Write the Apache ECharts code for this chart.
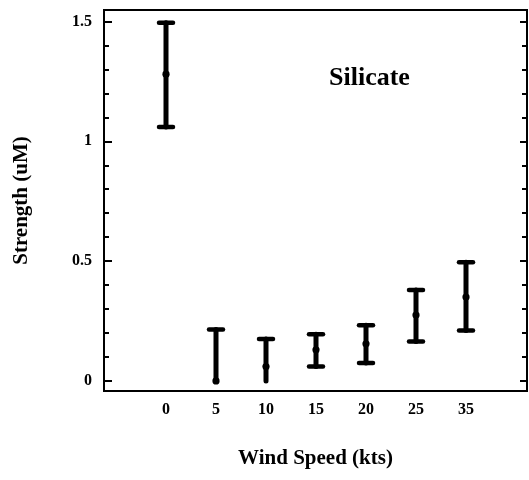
<!DOCTYPE html>
<html>
<head>
<meta charset="utf-8">
<script src="https://cdn.jsdelivr.net/npm/echarts@6/dist/echarts.min.js"></script>
<style>html,body{margin:0;padding:0;background:#fff}#chart{width:529px;height:480px}</style>
</head>
<body>
<div id="chart"></div>
<script>
// Data
const categories = ['0', '5', '10', '15', '20', '25', '35'];
const means = [1.28, 0.0, 0.06, 0.13, 0.155, 0.275, 0.35];
const lows  = [1.06, 0.0, 0.0, 0.06, 0.075, 0.165, 0.21];
const highs = [1.495, 0.215, 0.175, 0.195, 0.232, 0.38, 0.495];
const yMajorTicks = [0, 0.5, 1, 1.5];
const yMinorTicks = [0, 0.1, 0.2, 0.3, 0.4, 0.5, 0.6, 0.7, 0.8, 0.9, 1.0, 1.1, 1.2, 1.3, 1.4, 1.5];
const panelLabel = 'Silicate';
const xTitle = 'Wind Speed (kts)';
const yTitle = 'Strength (uM)';

const FONT = 'Liberation Serif';
const data = categories.map((c, i) => [i, means[i], lows[i], highs[i]]);

function renderItem(params, api) {
  const x = api.value(0);
  const m = api.value(1), lo = api.value(2), hi = api.value(3);
  const pHi = api.coord([x, hi]);
  const pLo = api.coord([x, lo]);
  const pM = api.coord([x, m]);
  const capHalf = 7;
  const style = { stroke: '#000', lineWidth: 5, lineCap: 'round' };
  const capStyle = { stroke: '#000', lineWidth: 4.5, lineCap: 'round' };
  const children = [
    { type: 'line', shape: { x1: pHi[0], y1: pHi[1], x2: pLo[0], y2: pLo[1] }, style: style },
    { type: 'line', shape: { x1: pHi[0] - capHalf, y1: pHi[1], x2: pHi[0] + capHalf, y2: pHi[1] }, style: capStyle },
    { type: 'circle', shape: { cx: pM[0], cy: pM[1], r: 3.6 }, style: { fill: '#000' } }
  ];
  if (lo > 0) {
    children.push({ type: 'line', shape: { x1: pLo[0] - capHalf, y1: pLo[1], x2: pLo[0] + capHalf, y2: pLo[1] }, style: capStyle });
  }
  return { type: 'group', children: children };
}

const yBase = { type: 'value', min: -0.042, max: 1.548, splitLine: { show: false } };

const chart = echarts.init(document.getElementById('chart'));
chart.setOption({
  animation: false,
  backgroundColor: '#fff',
  grid: { left: 104, right: 2, top: 10, bottom: 89, show: true, borderColor: '#000', borderWidth: 2, backgroundColor: 'transparent' },
  graphic: [{
    type: 'text', left: 329, top: 65,
    style: { text: panelLabel, font: 'bold 26px "' + FONT + '"', fill: '#000' }
  }],
  xAxis: {
    type: 'value', min: -1.24, max: 7.22,
    name: xTitle, nameLocation: 'middle', nameGap: 57,
    nameTextStyle: { fontFamily: FONT, fontWeight: 'bold', fontSize: 21, color: '#000' },
    axisLine: { show: true, onZero: false, lineStyle: { color: '#000', width: 2 } },
    axisTick: { show: false },
    splitLine: { show: false },
    axisLabel: {
      customValues: categories.map((c, i) => i),
      formatter: v => categories[Math.round(v)],
      margin: 11, fontFamily: FONT, fontWeight: 'bold', fontSize: 16, color: '#000'
    }
  },
  yAxis: [
    Object.assign({}, yBase, {
      position: 'left',
      name: yTitle, nameLocation: 'middle', nameGap: 72,
      nameTextStyle: { fontFamily: FONT, fontWeight: 'bold', fontSize: 21, color: '#000' },
      axisLine: { show: true, onZero: false, lineStyle: { color: '#000', width: 2 } },
      axisTick: { show: true, inside: true, length: 8, customValues: yMajorTicks, lineStyle: { color: '#000', width: 2 } },
      axisLabel: { customValues: yMajorTicks, margin: 12, fontFamily: FONT, fontWeight: 'bold', fontSize: 16, color: '#000' }
    }),
    Object.assign({}, yBase, {
      position: 'left',
      axisLine: { show: false, onZero: false },
      axisTick: { show: true, inside: true, length: 5, customValues: yMinorTicks, lineStyle: { color: '#000', width: 2 } },
      axisLabel: { show: false }
    }),
    Object.assign({}, yBase, {
      position: 'right',
      axisLine: { show: true, onZero: false, lineStyle: { color: '#000', width: 2 } },
      axisTick: { show: true, inside: true, length: 7, customValues: yMajorTicks, lineStyle: { color: '#000', width: 2 } },
      axisLabel: { show: false }
    }),
    Object.assign({}, yBase, {
      position: 'right',
      axisLine: { show: false, onZero: false },
      axisTick: { show: true, inside: true, length: 5, customValues: yMinorTicks, lineStyle: { color: '#000', width: 2 } },
      axisLabel: { show: false }
    })
  ],
  series: [{
    type: 'custom',
    renderItem: renderItem,
    data: data,
    xAxisIndex: 0, yAxisIndex: 0,
    encode: { x: 0, y: [1, 2, 3] },
    clip: false
  }]
});
</script>
</body>
</html>
